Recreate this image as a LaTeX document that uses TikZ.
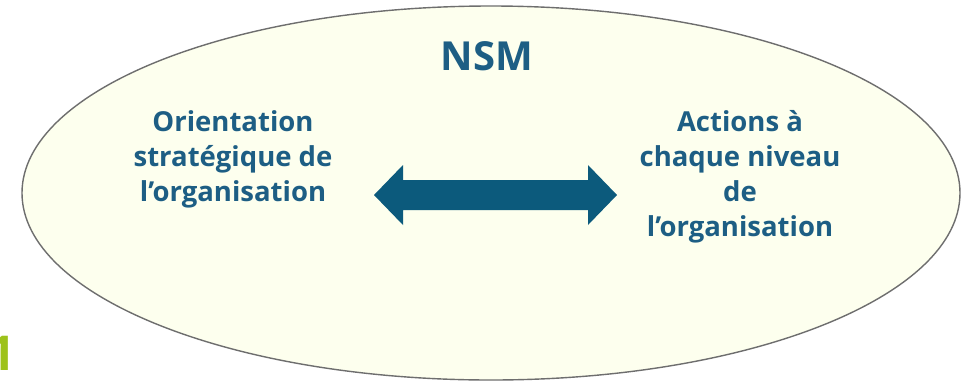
\documentclass[tikz,border=0pt]{standalone}
\usepackage{fontspec}
\usetikzlibrary{shapes.geometric}
\setmainfont{Open Sans}
\begin{document}
\begin{tikzpicture}[x=1pt,y=-1pt,
  txt/.style={text=textblue,font=\bfseries\fontsize{27.5}{35}\selectfont,align=center,inner sep=0pt},
  bigarrow/.style={fill=arrowblue,draw=none}]
\definecolor{textblue}{HTML}{1D5E84}
\definecolor{arrowblue}{HTML}{0C5A7C}
\definecolor{cream}{HTML}{FDFFEE}
\definecolor{rimgray}{HTML}{6E6E6E}
\definecolor{lime}{HTML}{9DC21B}
\useasboundingbox (0,0) rectangle (962,384);
\fill[white] (0,0) rectangle (962,384);
\node[draw=rimgray,line width=1.4pt,fill=cream,ellipse,minimum width=938pt,minimum height=374pt,inner sep=0pt] (nsmell) at (491,193) {};
\node[txt,font=\bfseries\fontsize{40}{44}\selectfont] (nsm) at (487,56) {NSM};
\node[txt] (left) at (233,159) {Orientation\\strat\'egique de\\l’organisation};
\node[txt] (right) at (740,177) {Actions \`a\\chaque niveau\\de\\l’organisation};
\coordinate (ltip) at (374,195);
\coordinate (rtip) at (617,195);
\fill[bigarrow] (ltip) -- (403,165) -- (403,180) -- (588,180) -- (588,165) -- (rtip)
  -- (588,225) -- (588,210) -- (403,210) -- (403,225) -- cycle;
\node[anchor=base west,inner sep=0pt,text=lime,font=\bfseries\fontsize{48}{50}\selectfont] (one) at (-12,370) {1};
\end{tikzpicture}
\end{document}
